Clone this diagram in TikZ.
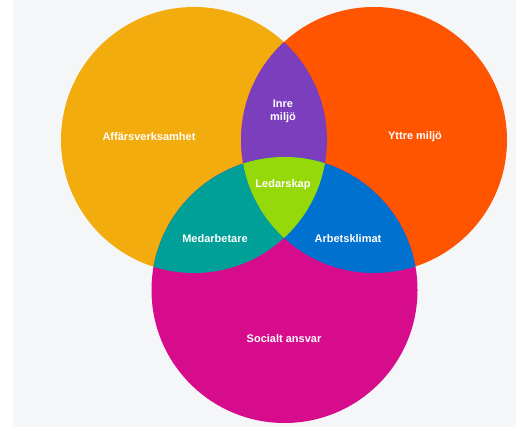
\documentclass[tikz,border=0pt]{standalone}
\usepackage{fontspec}
\setmainfont{Liberation Sans}
\definecolor{bggray}{RGB}{245,246,248}
\definecolor{affar}{RGB}{242,172,14}
\definecolor{yttre}{RGB}{255,85,0}
\definecolor{social}{RGB}{214,12,140}
\definecolor{inre}{RGB}{123,63,190}
\definecolor{medarb}{RGB}{0,160,152}
\definecolor{arbkl}{RGB}{0,113,206}
\definecolor{ledar}{RGB}{150,217,10}
\begin{document}
\begin{tikzpicture}[x=1pt, y=-1pt, line join=round, font=\bfseries\fontsize{11}{13}\selectfont,
	label/.style={text=white, align=center, inner sep=1pt}]
			\def\r{133pt}
			\useasboundingbox (0,0) rectangle (516,427);
			\fill [white] (0,0) rectangle (13,427);
			\fill [bggray] (13,0) rectangle (516,427);
			\coordinate (L) at (194,140);
			\coordinate (R) at (374,140);
			\coordinate (B) at (284.5,290);
			% the three circles
			\fill [affar] (L) circle (\r);
			\fill [yttre] (R) circle (\r);
			\fill [social] (B) circle (\r);
			% pairwise overlaps
			\begin{scope}
				\clip (L) circle (\r);
				\fill [inre] (R) circle (\r);
				\fill [medarb] (B) circle (\r);
			\end{scope}
			\begin{scope}
				\clip (R) circle (\r);
				\fill [arbkl] (B) circle (\r);
			\end{scope}
			% centre
			\begin{scope}
				\clip (L) circle (\r);
				\clip (R) circle (\r);
				\fill [ledar] (B) circle (\r);
			\end{scope}
			\node [label] (affarsverksamhet) at (149,137) {Affärsverksamhet};
			\node [label] (yttremiljo) at (415,137) {Yttre miljö};
			\node [label] (inremiljo) at (283,111) {Inre\\miljö};
			\node [label] (ledarskap) at (283,185) {Ledarskap};
			\node [label] (medarbetare) at (215,239) {Medarbetare};
			\node [label] (arbetsklimat) at (348,239) {Arbetsklimat};
			\node [label] (socialtansvar) at (284,339) {Socialt ansvar};
		\end{tikzpicture}
\end{document}
